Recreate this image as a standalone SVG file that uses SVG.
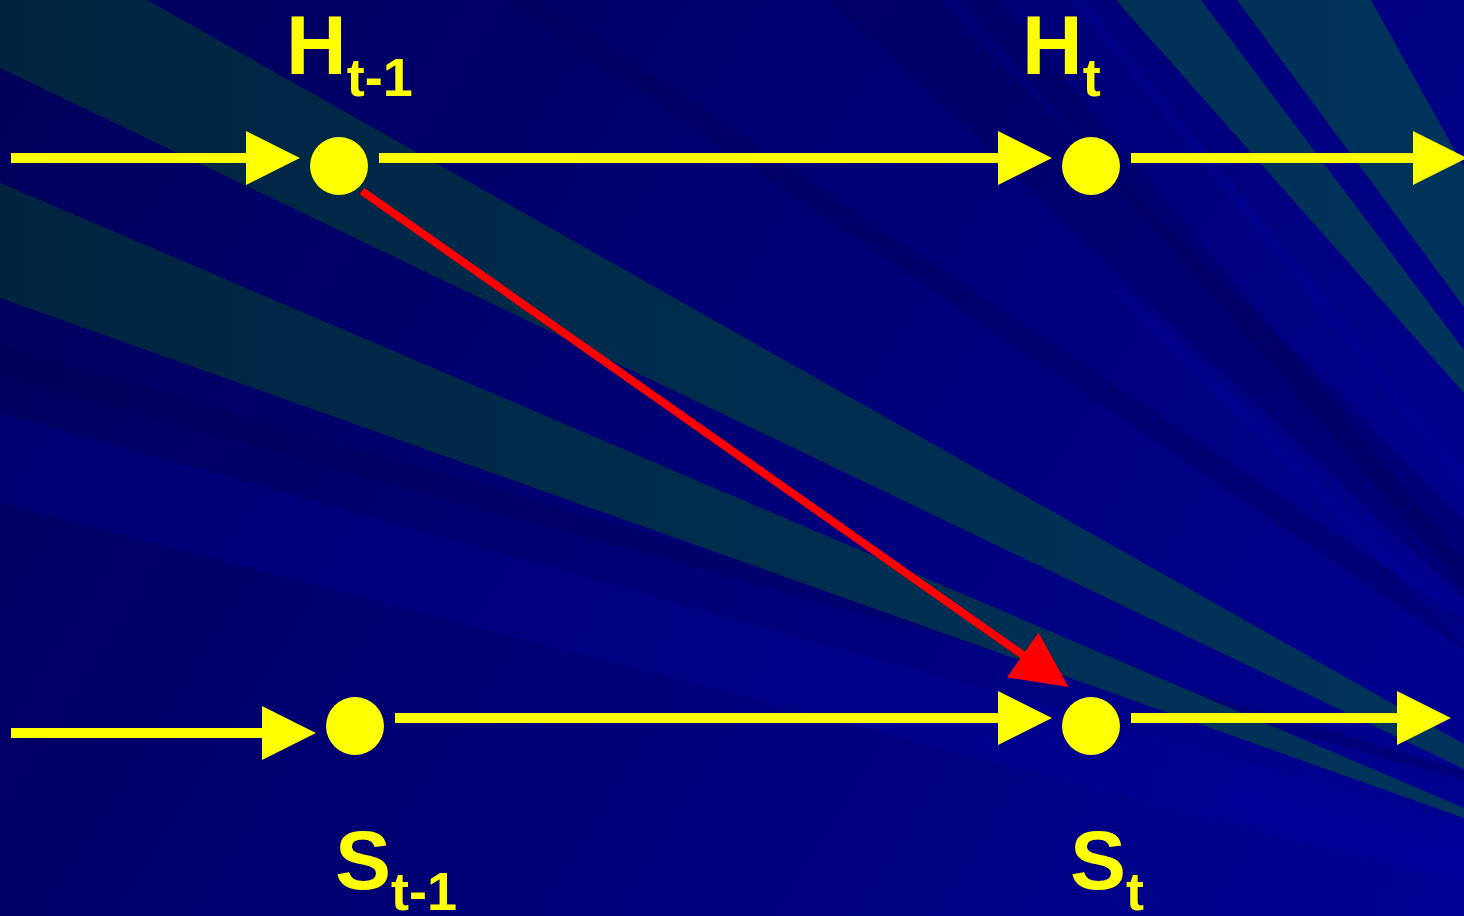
<svg xmlns="http://www.w3.org/2000/svg" width="1464" height="916" viewBox="0 0 1464 916">
  <defs>
    <linearGradient id="bg" gradientUnits="userSpaceOnUse" x1="0" y1="0" x2="1464" y2="916">
      <stop offset="0" stop-color="#00005A"/>
      <stop offset="0.45" stop-color="#000074"/>
      <stop offset="1" stop-color="#000092"/>
    </linearGradient>
    <linearGradient id="teal" gradientUnits="userSpaceOnUse" x1="0" y1="0" x2="1464" y2="0">
      <stop offset="0" stop-color="#002440"/>
      <stop offset="1" stop-color="#00345C"/>
    </linearGradient>
    <marker id="headY" markerUnits="userSpaceOnUse" markerWidth="54" markerHeight="54" viewBox="0 -26 52 52" refX="2" refY="0" orient="auto">
      <path d="M0,-26 L52,0 L0,26 Z" fill="#FFFF00"/>
    </marker>
    <marker id="headR" markerUnits="userSpaceOnUse" markerWidth="56" markerHeight="56" viewBox="0 -27 54 54" refX="2" refY="0" orient="auto">
      <path d="M0,-26.5 L54,0 L0,26.5 Z" fill="#FF0000"/>
    </marker>
  </defs>
  <style>
    .ray { fill: url(#teal); }
    .dark { fill: #000050; opacity: 0.3; }
    .light { fill: #0000A8; opacity: 0.25; }
    .conn { stroke: #FFFF00; stroke-width: 10; fill: none; marker-end: url(#headY); }
    .red { stroke: #FF0000; stroke-width: 8; fill: none; marker-end: url(#headR); }
    .node { fill: #FFFF00; }
    .lbl { font-family: "Liberation Sans", Arial, sans-serif; font-weight: bold; font-size: 84px; fill: #FFFF00; }
    .sub { font-size: 54px; }
  </style>

  <g id="background">
    <rect x="0" y="0" width="1464" height="916" fill="url(#bg)"/>
    <polygon class="dark" points="505,0 540,0 1464,620 1464,650"/>
    <polygon class="dark" points="830,0 937,0 1464,520 1464,600"/>
    <polygon class="dark" points="960,0 1000,0 1464,560 1464,590"/>
    <polygon class="dark" points="0,345 1464,770 1464,780 0,376"/>
    <polygon class="light" points="1070,0 1085,0 1464,470 1464,490"/>
    <polygon class="light" points="1110,290 1125,290 1464,625 1464,645"/>
    <polygon class="light" points="0,413 1464,823 1464,885 0,503"/>
    <polygon class="light" points="1230,787 1464,850 1464,884 1230,812"/>
    <polygon class="ray" points="0,0 147,0 1464,744 1464,769 0,68"/>
    <polygon class="ray" points="0,183 1464,808 1464,818 0,298"/>
    <polygon class="ray" points="1116,0 1201,0 1464,350 1464,393"/>
    <polygon class="ray" points="1237,0 1371,0 1464,167 1464,307"/>
  </g>

  <g id="connectors">
    <line class="conn" x1="11" y1="158" x2="248" y2="158"/>
    <line class="conn" x1="379" y1="158" x2="1000" y2="158"/>
    <line class="conn" x1="1131" y1="158" x2="1415" y2="158"/>
    <line class="conn" x1="11" y1="733" x2="264" y2="733"/>
    <line class="conn" x1="395" y1="718" x2="1000" y2="718"/>
    <line class="conn" x1="1131" y1="718" x2="1399" y2="718"/>
    <line class="red" x1="362" y1="191" x2="1024.4" y2="656.1"/>
  </g>

  <g id="node-H-t-1">
    <circle class="node" cx="339" cy="166" r="29"/>
    <text class="lbl" x="286" y="74">H<tspan class="sub" dy="22">t-1</tspan></text>
  </g>
  <g id="node-H-t">
    <circle class="node" cx="1091" cy="166" r="29"/>
    <text class="lbl" x="1022" y="74">H<tspan class="sub" dy="22">t</tspan></text>
  </g>
  <g id="node-S-t-1">
    <circle class="node" cx="355" cy="726" r="29"/>
    <text class="lbl" x="335" y="889">S<tspan class="sub" dy="21">t-1</tspan></text>
  </g>
  <g id="node-S-t">
    <circle class="node" cx="1091" cy="726" r="29"/>
    <text class="lbl" x="1070" y="889">S<tspan class="sub" dy="21">t</tspan></text>
  </g>
</svg>
